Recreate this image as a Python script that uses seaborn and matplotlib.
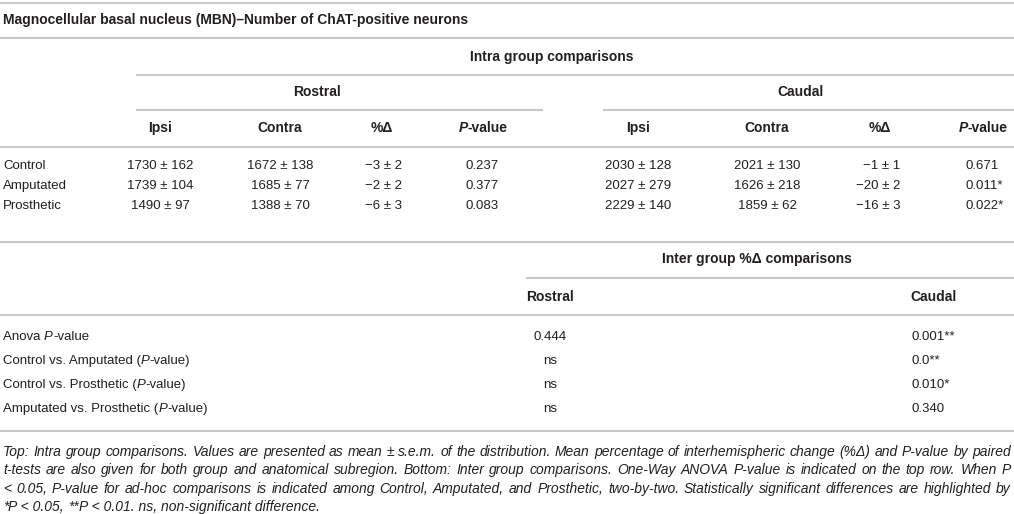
import matplotlib
matplotlib.use("Agg")
import matplotlib.pyplot as plt
import seaborn as sns

groups = ['Control', 'Amputated', 'Prosthetic']
rostral_ipsi = [1730, 1739, 1490]
rostral_ipsi_sem = [162, 104, 97]
rostral_contra = [1672, 1685, 1388]
rostral_contra_sem = [138, 77, 70]
rostral_delta = [-3, -2, -6]
rostral_delta_sem = [2, 2, 3]
rostral_p = ['0.237', '0.377', '0.083']
caudal_ipsi = [2030, 2027, 2229]
caudal_ipsi_sem = [128, 279, 140]
caudal_contra = [2021, 1626, 1859]
caudal_contra_sem = [130, 218, 62]
caudal_delta = [-1, -20, -16]
caudal_delta_sem = [1, 2, 3]
caudal_p = ['0.671', '0.011*', '0.022*']

inter_rows = ['Anova', 'Control vs. Amputated', 'Control vs. Prosthetic', 'Amputated vs. Prosthetic']
inter_rostral = ['0.444', 'ns', 'ns', 'ns']
inter_caudal = ['0.001**', '0.0**', '0.010*', '0.340']

caption = [
    "Top: Intra group comparisons. Values are presented as mean \u00b1 s.e.m. of the distribution. Mean percentage of interhemispheric change (%\u0394) and P-value by paired",
    "t-tests are also given for both group and anatomical subregion. Bottom: Inter group comparisons. One-Way ANOVA P-value is indicated on the top row. When P",
    "< 0.05, P-value for ad-hoc comparisons is indicated among Control, Amputated, and Prosthetic, two-by-two. Statistically significant differences are highlighted by",
]

sns.set_theme(style="white")
plt.rcParams['font.family'] = ['Liberation Sans', 'DejaVu Sans']

FS = 9.5      # body text
FB = 10.0     # bold headers
FC = 10.0     # caption
TXT = '#231f20'
LINE = '#c8c8c8'
W, H = 1014, 514

fig = plt.figure(figsize=(W / 100, H / 100), dpi=100)
ax = fig.add_axes([0, 0, 1, 1])
ax.set_xlim(0, W)
ax.set_ylim(H, 0)
ax.axis('off')
renderer = fig.canvas.get_renderer()


def hline(y, x0=0, x1=W):
    ax.plot([x0, x1], [y, y], color=LINE, lw=1.5, solid_capstyle='butt')


def runs(x, y, parts, ha='left', size=FS):
    # draw several text pieces with different styles as one string
    objs = []
    for s, kw in parts:
        t = ax.text(0, y, s, fontsize=kw.get('size', size), color=TXT, va='center',
                    ha='left', fontweight=kw.get('weight', 'normal'),
                    fontstyle=kw.get('style', 'normal'))
        objs.append(t)
    widths = [t.get_window_extent(renderer).width for t in objs]
    total = sum(widths)
    start = {'left': x, 'center': x - total / 2, 'right': x - total}[ha]
    for t, w, (s, kw) in zip(objs, widths, parts):
        t.set_x(start)
        t.set_y(y + kw.get('dy', 0))
        start += w


def txt(x, y, s, ha='center', size=FS, **kw):
    ax.text(x, y, s, fontsize=size, color=TXT, va='center', ha=ha, **kw)


def bold(x, y, s, ha='center'):
    txt(x, y, s, ha=ha, size=FB, fontweight='bold')


def pm(m, s):
    return f"{m:d} \u00b1 {s:d}".replace('-', '\u2212')


# title block
hline(3)
bold(3, 20, 'Magnocellular basal nucleus (MBN)\u2013Number of ChAT-positive neurons', ha='left')
hline(38)

# intra group header
bold(552, 57, 'Intra group comparisons')
hline(75, 136)
bold(317, 92, 'Rostral')
bold(801, 92, 'Caudal')
hline(110, 136, 543)
hline(110, 603)

cols_r = [160, 280, 382, 483]
cols_c = [638, 767, 880, 983]
for cols in (cols_r, cols_c):
    bold(cols[0], 128, 'Ipsi')
    bold(cols[1], 128, 'Contra')
    bold(cols[2], 128, '%\u0394')
    runs(cols[3], 128, [('P', {'weight': 'bold', 'style': 'italic'}), ('-value', {'weight': 'bold'})],
         ha='center', size=FB)
hline(147)

row_y = [166, 186, 206]
for i, g in enumerate(groups):
    y = row_y[i]
    txt(3, y, g, ha='left')
    txt(cols_r[0], y, pm(rostral_ipsi[i], rostral_ipsi_sem[i]))
    txt(cols_r[1], y, pm(rostral_contra[i], rostral_contra_sem[i]))
    txt(cols_r[2] + 20, y, pm(rostral_delta[i], rostral_delta_sem[i]), ha='right')
    txt(cols_r[3] - 18, y, rostral_p[i], ha='left')
    txt(cols_c[0], y, pm(caudal_ipsi[i], caudal_ipsi_sem[i]))
    txt(cols_c[1], y, pm(caudal_contra[i], caudal_contra_sem[i]))
    txt(cols_c[2] + 20, y, pm(caudal_delta[i], caudal_delta_sem[i]), ha='right')
    txt(cols_c[3] - 18, y, caudal_p[i], ha='left')
hline(242)

# inter group block
bold(757, 259, 'Inter group %\u0394 comparisons')
hline(278, 526)
bold(526, 297, 'Rostral', ha='left')
bold(910, 297, 'Caudal', ha='left')
hline(315)

inter_y = [337, 361, 385, 409]
for i, name in enumerate(inter_rows):
    y = inter_y[i]
    if i == 0:
        runs(3, y, [('Anova ', {}), ('P', {'style': 'italic'}), ('-value', {})])
    else:
        runs(3, y, [(name + ' (', {}), ('P', {'style': 'italic'}), ('-value)', {})])
    txt(550, y, inter_rostral[i])
    txt(912, y, inter_caudal[i], ha='left')
hline(431)

# caption, justified
cap_y = [452, 470, 489, 507]
for line, y in zip(caption, cap_y):
    words = line.split(' ')
    objs = [ax.text(0, y, w_, fontsize=FC, color=TXT, va='center', ha='left', fontstyle='italic')
            for w_ in words]
    ws = [o.get_window_extent(renderer).width for o in objs]
    gap = (1011 - 3 - sum(ws)) / (len(words) - 1)
    xpos = 3
    for o, w_ in zip(objs, ws):
        o.set_x(xpos)
        xpos += w_ + gap

it = {'style': 'italic'}
runs(3, cap_y[3], [('*', it), ('P < 0.05, ', it), ('**', it),
                   ('P < 0.01. ns, non-significant difference.', it)], size=FC)

fig.savefig('out.png', dpi=100, facecolor='white')
